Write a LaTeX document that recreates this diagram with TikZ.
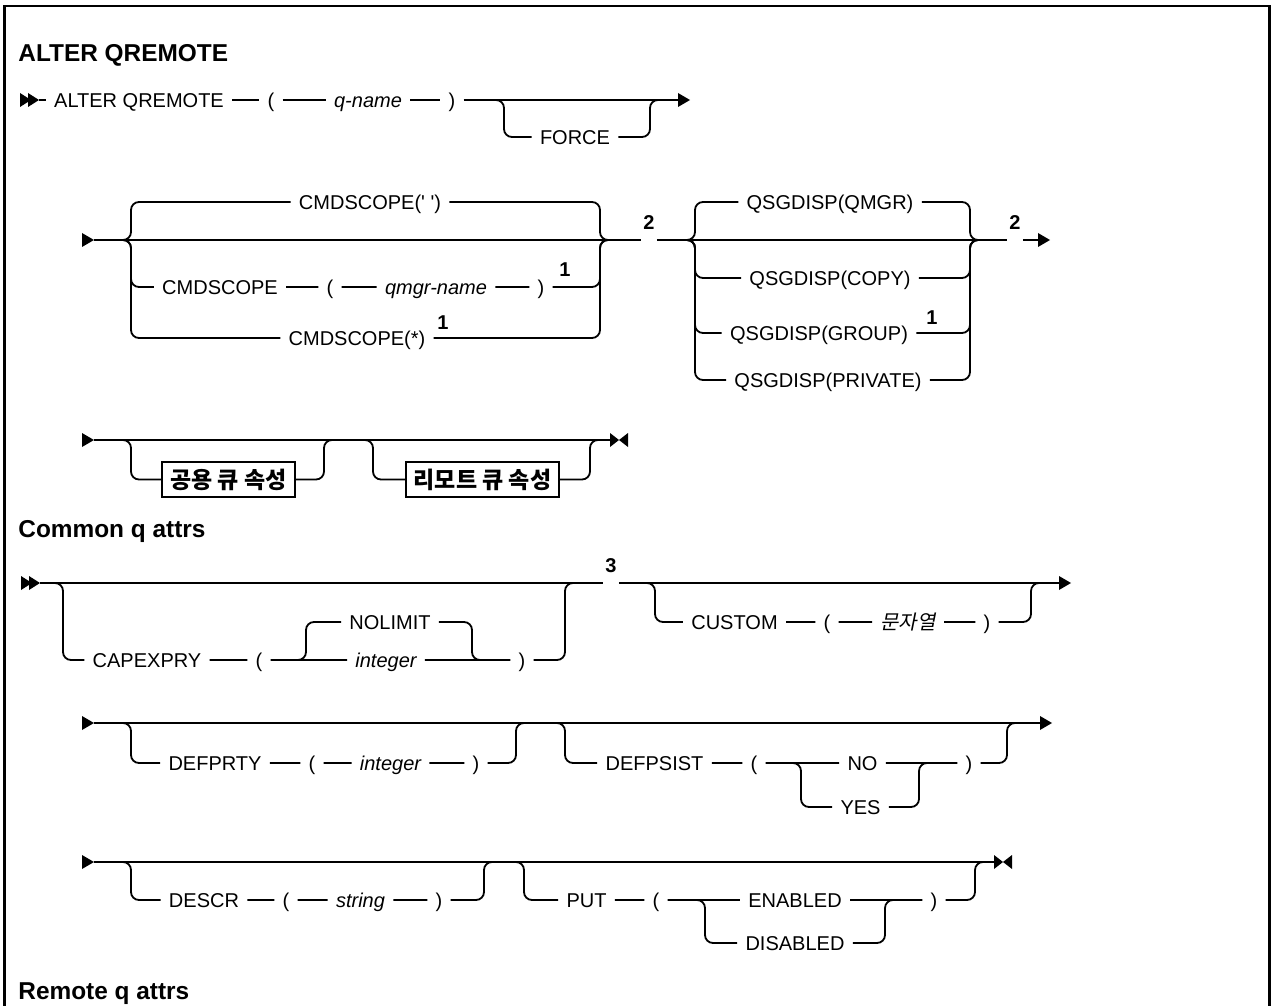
\documentclass[tikz,border=0pt]{standalone}
\usepackage{fontspec}
\setmainfont{Liberation Sans}[Ligatures=TeXOff]
\newfontfamily\krfont{Noto Sans CJK KR}[AutoFakeSlant=0.2]
\usetikzlibrary{positioning,calc}
\newcommand{\lblfont}{\fontsize{10}{12}\selectfont}
\newcommand{\ttlfont}{\fontsize{12.2}{15}\selectfont\bfseries}
\tikzset{
  rail/.style={
    line width=0.9pt,
    rounded corners=4pt
  },
  kw/.style={
    font=\lblfont,
    inner xsep=4pt,
    inner ysep=0pt,
    text height=7.2pt,
    text depth=0pt
  },
  var/.style={
    kw,
    font=\lblfont\itshape
  },
  note/.style={
    font=\lblfont\bfseries,
    inner sep=0pt
  },
  gapnote/.style={
    note,
    anchor=south,
    inner xsep=1pt,
    text height=7.2pt,
    text depth=5pt
  },
  ttl/.style={
    font=\ttlfont,
    anchor=base west,
    inner sep=0pt
  },
  refbox/.style={
    draw,
    line width=0.9pt,
    font=\krfont\fontsize{11.5}{14}\selectfont\bfseries,
    inner xsep=4pt,
    minimum height=17.5pt
  },
  dblstart/.pic={
    \fill (0,-7) -- (11,0) -- (0,7) -- cycle;
    \fill (8,-7) -- (19,0) -- (8,7) -- cycle;
  },
  contstart/.pic={
    \fill (0,-7) -- (12,0) -- (0,7) -- cycle;
  },
  arrowend/.pic={
    \fill (0,-7) -- (12,0) -- (0,7) -- cycle;
  },
  stopend/.pic={
    \fill (0,-7) -- (9,0) -- (0,7) -- cycle;
    \fill (18,-7) -- (9,0) -- (18,7) -- cycle;
  }
}
\begin{document}
\begin{tikzpicture}[x=0.5pt, y=-0.5pt]

  \useasboundingbox (0,0) rectangle (1272,1005);

  % frame
  \draw[line width=1.4pt] (4.5,1010) -- (4.5,6) -- (1269.5,6) -- (1269.5,1010);

  % ALTER QREMOTE
  \node[ttl] (ttlalter) at (18,62) {ALTER QREMOTE};
  \pic at (20,100) {dblstart};
  \coordinate (r1s) at (39,100);
  \node[kw] (alter) at (139,100) {ALTER QREMOTE};
  \node[kw] (lp1) at (271,100) {(};
  \node[var] (qname) at (368,100) {q-name};
  \node[kw] (rp1) at (452,100) {)};
  \node[kw] (force) at (575,137) {FORCE};
  \coordinate (f1) at (494,100);
  \coordinate (f2) at (660,100);
  \coordinate (r1e) at (678,100);
  \draw[rail] (r1s) -- (alter) -- (lp1) -- (qname) -- (rp1) -- (r1e);
  \draw[rail] (f1) -| (504,137) -- (force) -| (650,100) -- (f2);
  \pic at (r1e) {arrowend};

  % CMDSCOPE
  \pic at (82,240) {contstart};
  \coordinate (r2s) at (94,240);
  \coordinate (cl) at (121,240);
  \coordinate (cr) at (610,240);
  \node[kw] (cmdq) at (370,202) {CMDSCOPE(' ')};
  \node[kw] (cmd2) at (220,287) {CMDSCOPE};
  \node[kw] (lp2) at (330,287) {(};
  \node[var] (qmgr) at (436,287) {qmgr-name};
  \node[kw] (rp2) at (541,287) {)};
  \node[note] (fn1a) at (565,270) {1};
  \node[kw] (cmdstar) at (357,338) {CMDSCOPE(*)};
  \node[note] (fn1b) at (443,323) {1};
  \node[gapnote] (fn2a) at (649,240) {2};
  \draw[rail] (cl) -| (131,202) -- (cmdq) -| (600,240) -- (cr);
  \draw[rail] (cl) -| (131,287) -- (cmd2) -- (lp2) -- (qmgr) -- (rp2) -| (600,240) -- (cr);
  \draw[rail] (cl) -| (131,338) -- (cmdstar) -| (600,240) -- (cr);

  % QSGDISP
  \coordinate (ql) at (685,240);
  \coordinate (qr) at (980,240);
  \node[kw] (qqmgr) at (830,202) {QSGDISP(QMGR)};
  \node[kw] (qcopy) at (830,278) {QSGDISP(COPY)};
  \node[kw] (qgroup) at (819,333) {QSGDISP(GROUP)};
  \node[note] (fn1c) at (932,318) {1};
  \node[kw] (qpriv) at (828,380) {QSGDISP(PRIVATE)};
  \node[gapnote] (fn2b) at (1015,240) {2};
  \coordinate (r2e) at (1038,240);
  \draw[rail] (r2s) -- (fn2a.south west) (fn2a.south east) -- (fn2b.south west) (fn2b.south east) -- (r2e);
  \draw[rail] (ql) -| (695,202) -- (qqmgr) -| (970,240) -- (qr);
  \draw[rail] (ql) -| (695,278) -- (qcopy) -| (970,240) -- (qr);
  \draw[rail] (ql) -| (695,333) -- (qgroup) -| (970,240) -- (qr);
  \draw[rail] (ql) -| (695,380) -- (qpriv) -| (970,240) -- (qr);
  \pic at (r2e) {arrowend};

  % attribute blocks
  \pic at (82,440) {contstart};
  \coordinate (r3s) at (94,440);
  \coordinate (r3e) at (610,440);
  \node[refbox] (cqa) at (228.5,479.5) {공용 큐 속성};
  \node[refbox] (rqa) at (482.5,479.5) {리모트 큐 속성};
  \draw[rail] (r3s) -- (r3e);
  \draw[rail] (121,440) -| (131,479.5) -- (cqa) -| (324,440) -- (334,440);
  \draw[rail] (363,440) -| (373,479.5) -- (rqa) -| (590,440) -- (600,440);
  \pic at (r3e) {stopend};

  % Common q attrs
  \node[ttl] (ttlcommon) at (18,537) {Common q attrs};
  \pic at (21,583) {dblstart};
  \coordinate (r4s) at (40,583);
  \node[kw] (capx) at (147,660) {CAPEXPRY};
  \node[kw] (lp4) at (259,660) {(};
  \node[kw] (nolim) at (390,622) {NOLIMIT};
  \node[var] (int4) at (386,660) {integer};
  \node[kw] (rp4) at (522,660) {)};
  \node[gapnote] (fn3) at (611,583) {3};
  \node[kw] (custom) at (734.5,622) {CUSTOM};
  \node[kw] (lp5) at (827,622) {(};
  \node[var, font=\lblfont\krfont\itshape] (strkr) at (908,622) {문자열};
  \node[kw] (rp5) at (987,622) {)};
  \coordinate (r4e) at (1059,583);
  \draw[rail] (r4s) -- (fn3.south west) (fn3.south east) -- (r4e);
  \draw[rail] (53,583) -| (63,660) -- (capx) -- (lp4) -- (int4) -- (rp4) -| (565,583) -- (575,583);
  \draw[rail] (296,660) -| (306,622) -- (nolim) -| (472,660) -- (482,660);
  \draw[rail] (645,583) -| (655,622) -- (custom) -- (lp5) -- (strkr) -- (rp5) -| (1031,583) -- (1041,583);
  \pic at (r4e) {arrowend};

  % DEFPRTY / DEFPSIST
  \pic at (82,723) {contstart};
  \coordinate (r5s) at (94,723);
  \coordinate (r5e) at (1040,723);
  \node[kw] (defprty) at (215,763) {DEFPRTY};
  \node[kw] (lp6) at (312,763) {(};
  \node[var] (int6) at (390.5,763) {integer};
  \node[kw] (rp6) at (476,763) {)};
  \node[kw] (defpsist) at (654.5,763) {DEFPSIST};
  \node[kw] (lp7) at (754,763) {(};
  \node[kw] (no) at (862.5,763) {NO};
  \node[kw] (yes) at (860.5,807) {YES};
  \node[kw] (rp7) at (969,763) {)};
  \draw[rail] (r5s) -- (r5e);
  \draw[rail] (121,723) -| (131,763) -- (defprty) -- (lp6) -- (int6) -- (rp6) -| (516,723) -- (526,723);
  \draw[rail] (555,723) -| (565,763) -- (defpsist) -- (lp7) -- (no) -- (rp7) -| (1007,723) -- (1017,723);
  \draw[rail] (791,763) -| (801,807) -- (yes) -| (919,763) -- (929,763);
  \pic at (r5e) {arrowend};

  % DESCR / PUT
  \pic at (82,862) {contstart};
  \coordinate (r6s) at (94,862);
  \coordinate (r6e) at (994,862);
  \node[kw] (descr) at (204,900) {DESCR};
  \node[kw] (lp8) at (286,900) {(};
  \node[var] (str8) at (360.5,900) {string};
  \node[kw] (rp8) at (439,900) {)};
  \node[kw] (put) at (586.5,900) {PUT};
  \node[kw] (lp9) at (656,900) {(};
  \node[kw] (enab) at (795,900) {ENABLED};
  \node[kw] (disab) at (795,943) {DISABLED};
  \node[kw] (rp9) at (934,900) {)};
  \draw[rail] (r6s) -- (r6e);
  \draw[rail] (121,862) -| (131,900) -- (descr) -- (lp8) -- (str8) -- (rp8) -| (484,862) -- (494,862);
  \draw[rail] (514,862) -| (524,900) -- (put) -- (lp9) -- (enab) -- (rp9) -| (975,862) -- (985,862);
  \draw[rail] (695,900) -| (705,943) -- (disab) -| (885,900) -- (895,900);
  \pic at (r6e) {stopend};

  % Remote q attrs
  \node[ttl] (ttlremote) at (18,999) {Remote q attrs};

\end{tikzpicture}
\end{document}
